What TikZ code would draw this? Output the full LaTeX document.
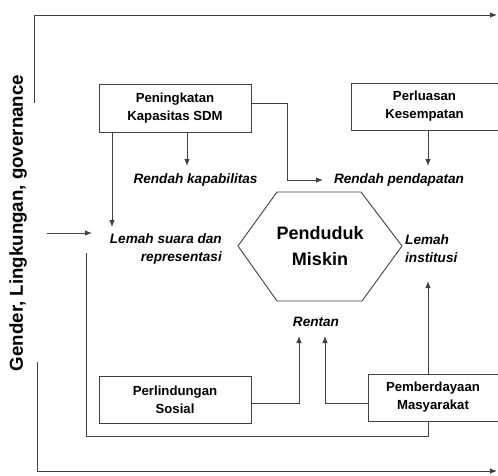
\documentclass[tikz,border=0pt]{standalone}
\usepackage{fontspec}
\setmainfont{Liberation Sans}
\usetikzlibrary{arrows.meta,calc}
\begin{document}
\begin{tikzpicture}[x=1pt,y=-1pt,
 ln/.style={draw=black!75, line width=0.9pt},
 arr/.style={ln,-{Latex[length=7pt,width=5.5pt]}},
 box/.style={ln, fill=white, font=\fontsize{13.2}{18}\selectfont\bfseries, align=center, inner sep=0pt},
 lab/.style={font=\fontsize{13.6}{18}\selectfont\bfseries\itshape, inner sep=1pt},
 big/.style={font=\fontsize{18}{26}\selectfont\bfseries, align=center, inner sep=0pt},
]
\useasboundingbox (0,0) rectangle (498,475);
\clip (0,0) rectangle (498,475);
\fill[white] (0,0) rectangle (498,475);

% outer frame
\coordinate (tl1) at (34,103);
\coordinate (tl2) at (34,15);
\coordinate (tr) at (497,15);
\coordinate (bl1) at (37,362);
\coordinate (bl2) at (37,471);
\coordinate (br) at (497,471);
\draw[arr] (tl1) -- (tl2) -- (tr);
\draw[arr] (bl1) -- (bl2) -- (br);
\node[rotate=90, font=\fontsize{18.7}{22}\selectfont\bfseries, inner sep=0pt] (side) at (18,223) {Gender, Lingkungan, governance};

% left incoming arrow
\coordinate (inA) at (47,233);
\coordinate (inB) at (92,233);
\draw[arr] (inA) -- (inB);

% boxes
\node[box, minimum width=152pt, minimum height=48pt] (sdm) at (175,108) {Peningkatan\\Kapasitas SDM};
\node[box, minimum width=147pt, minimum height=47pt] (pk) at (424.5,106.5) {Perluasan\\Kesempatan};
\node[box, minimum width=152pt, minimum height=47pt] (ps) at (175,399.5) {Perlindungan\\Sosial};
\node[box, minimum width=130pt, minimum height=47pt] (pm) at (433,397.5) {Pemberdayaan\\Masyarakat};

% hexagon
\coordinate (h1) at (238,246);
\coordinate (h2) at (277,192);
\coordinate (h3) at (361,192);
\coordinate (h4) at (402,246);
\coordinate (h5) at (362,301);
\coordinate (h6) at (277,301);
\draw[ln] (h1) -- (h2) -- (h3) -- (h4) -- (h5) -- (h6) -- cycle;
\node[big] (miskin) at (320,246) {Penduduk\\Miskin};

% labels
\node[lab] (rk) at (195.5,180) {Rendah kapabilitas};
\node[lab] (rp) at (399,180) {Rendah pendapatan};
\node[lab, anchor=east, align=right] (ls) at (223,249) {Lemah suara dan\\representasi};
\node[lab, anchor=west, align=left] (li) at (404,248.5) {Lemah\\institusi};
\node[lab] (rt) at (316,322) {Rentan};

% connectors
\coordinate (a1s) at (112,132);
\coordinate (a1e) at (112,227);
\draw[arr] (a1s) -- (a1e);
\coordinate (a2s) at (187,132);
\coordinate (a2e) at (187,166);
\draw[arr] (a2s) -- (a2e);
\coordinate (a3s) at (251,103);
\coordinate (a3b1) at (287,103);
\coordinate (a3b2) at (287,180);
\coordinate (a3e) at (323,180);
\draw[arr] (a3s) -- (a3b1) -- (a3b2) -- (a3e);
\coordinate (a4s) at (428,130);
\coordinate (a4e) at (428,166);
\draw[arr] (a4s) -- (a4e);
\coordinate (a5s) at (428,374);
\coordinate (a5e) at (428,281);
\draw[arr] (a5s) -- (a5e);
\coordinate (a6s) at (251,403);
\coordinate (a6b) at (299,403);
\coordinate (a6e) at (299,336);
\draw[arr] (a6s) -- (a6b) -- (a6e);
\coordinate (a7s) at (368,403);
\coordinate (a7b) at (325,403);
\coordinate (a7e) at (325,336);
\draw[arr] (a7s) -- (a7b) -- (a7e);
\coordinate (a8s) at (428,421);
\coordinate (a8b1) at (428,436);
\coordinate (a8b2) at (86,436);
\coordinate (a8e) at (86,253);
\draw[ln] (a8s) -- (a8b1) -- (a8b2) -- (a8e);
\end{tikzpicture}
\end{document}
